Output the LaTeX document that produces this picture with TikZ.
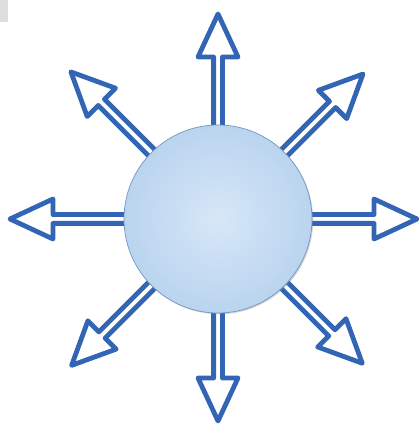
\documentclass[tikz,border=0pt]{standalone}
\usetikzlibrary{calc,shadows}
\definecolor{rayblue}{RGB}{50,101,180}
\definecolor{hubedge}{RGB}{112,152,196}
\definecolor{hublight}{RGB}{215,231,247}
\definecolor{hubdark}{RGB}{186,212,239}
\definecolor{cornergray}{RGB}{222,222,222}

\begin{document}
\begin{tikzpicture}[x=1pt,y=1pt]

\useasboundingbox (0,0) rectangle (419,425);

% Each ray is specified as:
% \ray{angle}{tip distance from the hub centre}
\newcommand{\ray}[2]{%
  \filldraw[ray outline, shift={(hubc)}, rotate=#1]
    (50,-4.4) -- (#2-43,-4.4) -- (#2-43,-20) -- (#2,0)
    -- (#2-43,20) -- (#2-43,4.4) -- (50,4.4);
}

\tikzset{
  ray outline/.style={
    draw=rayblue,
    fill=white,
    line width=4.8pt,
    line join=round
  },
  hub disc/.style={
    circle,
    draw=hubedge,
    line width=0.7pt,
    inner color=hublight,
    outer color=hubdark,
    minimum size=188pt,
    inner sep=0pt,
    drop shadow={shadow xshift=1.2pt, shadow yshift=-1.2pt, opacity=0.35}
  }
}

% Small grey patch in the top-left corner.
\fill[cornergray] (0,403) rectangle (8,425);

\coordinate (hubc) at (218,206);

% Rays.
\ray{0}{199}
\ray{45}{205}
\ray{90}{205}
\ray{135}{208}
\ray{180}{208}
\ray{225}{207}
\ray{270}{202}
\ray{315}{204}

% Hub on top of the shafts.
\node[hub disc] (hub) at (hubc) {};

\end{tikzpicture}
\end{document}
